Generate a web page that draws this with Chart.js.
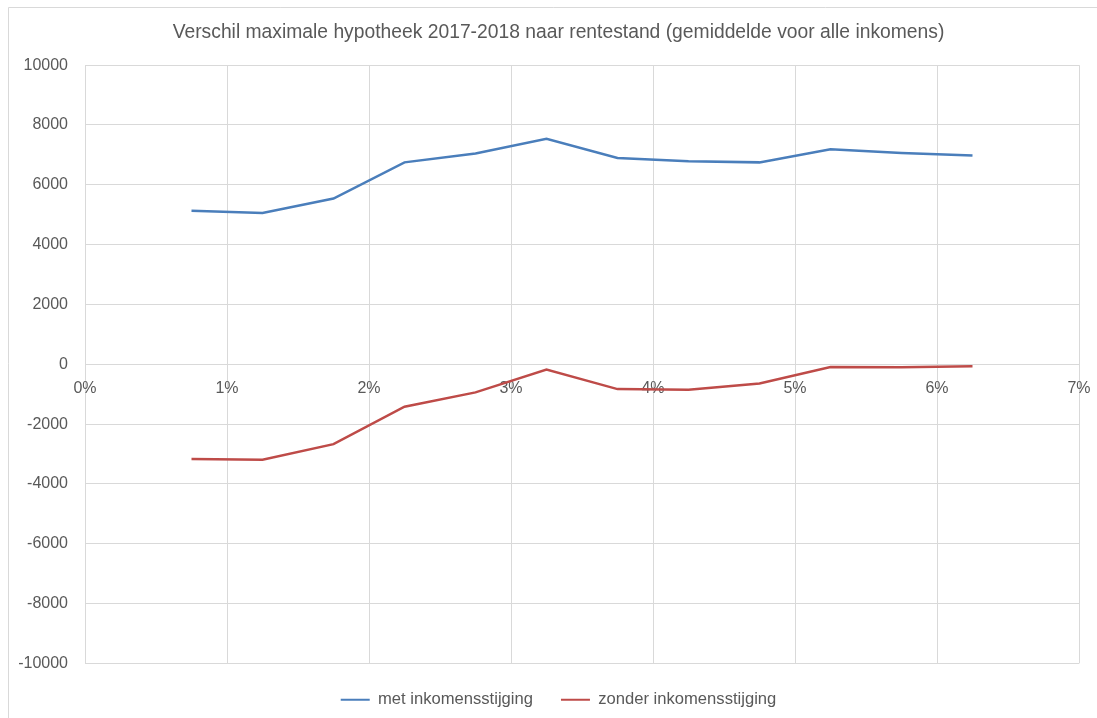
<!DOCTYPE html>
<html>
<head>
<meta charset="utf-8">
<title>Verschil maximale hypotheek</title>
<script src="https://cdn.jsdelivr.net/npm/chart.js@4.4.0/dist/chart.umd.min.js"></script>
<style>
    html, body { margin: 0; padding: 0; background: #ffffff; }
    #wrap { width: 1097px; height: 718px; position: relative; }
</style>
</head>
<body>
<div id="wrap"><canvas id="chart"></canvas></div>
<script>
// rentestand (%) and the two series
const rentes = [0.75, 1.25, 1.75, 2.25, 2.75, 3.25, 3.75, 4.25, 4.75, 5.25, 5.75, 6.25];
const metInkomensstijging = [5130, 5060, 5540, 6750, 7050, 7540, 6900, 6790, 6750, 7190, 7060, 6980];
const zonderInkomensstijging = [-3170, -3190, -2670, -1420, -940, -180, -830, -850, -640, -90, -100, -70];
const xTicks = [0, 1, 2, 3, 4, 5, 6, 7];
const yTicks = [-10000, -8000, -6000, -4000, -2000, 0, 2000, 4000, 6000, 8000, 10000];

const FONT = '"Liberation Sans", Arial, sans-serif';
const GRID = '#d9d9d9';
const TEXT = '#595959';
// the original chart frame runs past the right edge, so title and legend sit right of centre
const CENTER_SHIFT = 19;

function toPoints(values) {
    return rentes.map((r, i) => ({ x: r, y: values[i] }));
}

// white background + thin frame like the spreadsheet chart
const framePlugin = {
    id: 'frame',
    beforeDraw(chart) {
        const ctx = chart.ctx;
        ctx.save();
        ctx.fillStyle = '#ffffff';
        ctx.fillRect(0, 0, chart.width, chart.height);
        ctx.strokeStyle = GRID;
        ctx.lineWidth = 1;
        ctx.beginPath();
        ctx.moveTo(8.5, chart.height + 5);
        ctx.lineTo(8.5, 7.5);
        ctx.lineTo(chart.width + 5, 7.5);
        ctx.stroke();
        ctx.restore();
    }
};

// move title and legend boxes sideways after layout
const shiftPlugin = {
    id: 'shiftBoxes',
    afterLayout(chart) {
        [chart.titleBlock, chart.legend].forEach(box => {
            if (!box) return;
            box.left += CENTER_SHIFT;
            box.right += CENTER_SHIFT;
        });
    }
};

new Chart(document.getElementById('chart'), {
    type: 'line',
    data: {
        datasets: [
            {
                label: 'met inkomensstijging',
                data: toPoints(metInkomensstijging),
                borderColor: '#4a7ebb',
                backgroundColor: '#4a7ebb',
                borderWidth: 2.5,
                pointRadius: 0,
                tension: 0
            },
            {
                label: 'zonder inkomensstijging',
                data: toPoints(zonderInkomensstijging),
                borderColor: '#be4b48',
                backgroundColor: '#be4b48',
                borderWidth: 2.5,
                pointRadius: 0,
                tension: 0
            }
        ]
    },
    options: {
        responsive: true,
        maintainAspectRatio: false,
        animation: false,
        layout: {
            padding: { left: 0, right: 18, top: 0, bottom: 0 }
        },
        plugins: {
            title: {
                display: true,
                text: 'Verschil maximale hypotheek 2017-2018 naar rentestand (gemiddelde voor alle inkomens)',
                color: TEXT,
                font: { family: FONT, size: 19.3, weight: 'normal' },
                padding: { top: 21, bottom: 21 }
            },
            legend: {
                position: 'bottom',
                labels: {
                    color: TEXT,
                    font: { family: FONT, size: 16.6 },
                    boxWidth: 29,
                    boxHeight: 2,
                    padding: 28,
                    generateLabels(chart) {
                        const items = Chart.defaults.plugins.legend.labels.generateLabels(chart);
                        return items.map(item => Object.assign(item, { lineWidth: 0 }));
                    }
                }
            },
            tooltip: { enabled: false }
        },
        scales: {
            x: {
                type: 'linear',
                position: { y: 0 },
                min: 0,
                max: 7,
                afterBuildTicks(scale) {
                    scale.ticks = xTicks.map(v => ({ value: v }));
                },
                afterFit(scale) {
                    scale.paddingLeft = 0;
                    scale.paddingRight = 0;
                },
                ticks: {
                    color: TEXT,
                    font: { family: FONT, size: 16 },
                    padding: 15,
                    maxRotation: 0,
                    callback: v => v + '%'
                },
                grid: { color: GRID, drawTicks: false },
                border: { color: GRID }
            },
            y: {
                min: -10000,
                max: 10000,
                afterBuildTicks(scale) {
                    scale.ticks = yTicks.map(v => ({ value: v }));
                },
                afterFit(scale) {
                    scale.width = 85;
                },
                ticks: {
                    color: TEXT,
                    font: { family: FONT, size: 16 },
                    padding: 17,
                    callback: v => String(v)
                },
                grid: { color: GRID, drawTicks: false },
                border: { display: false }
            }
        }
    },
    plugins: [framePlugin, shiftPlugin]
});
</script>
</body>
</html>
